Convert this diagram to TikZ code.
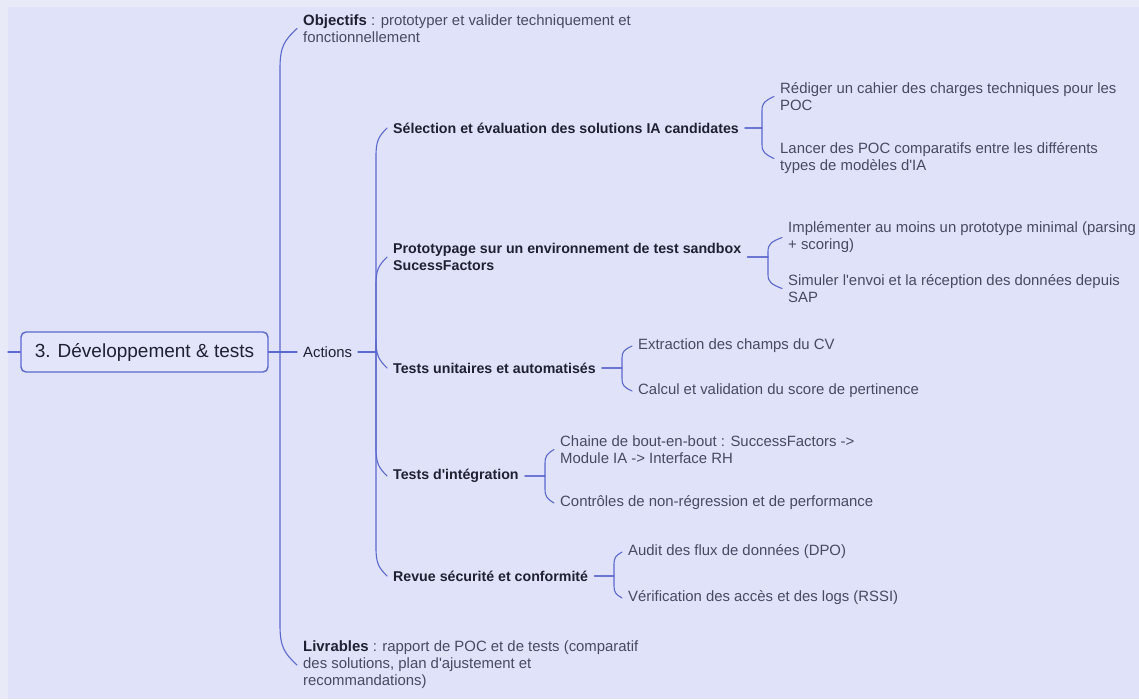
\documentclass[tikz,border=0pt]{standalone}
\usepackage{fontspec}
\setmainfont{Liberation Sans}[Ligatures=TeXOff]
\usetikzlibrary{calc}
\definecolor{bg}{HTML}{DFE2F8}
\definecolor{rim}{HTML}{E8EAF8}
\definecolor{wire}{HTML}{5B68CE}
\definecolor{ink}{HTML}{1F2133}
\definecolor{soft}{HTML}{474A60}
\definecolor{boxfill}{HTML}{E3E6FA}

\begin{document}
\begin{tikzpicture}[x=1pt,y=-1pt,
  every node/.style={inner ysep=1pt, inner xsep=6pt, anchor=west, align=left,
    font=\fontsize{14.9}{17}\selectfont},
  leaf/.style={text=soft},
  branch/.style={text=ink, font=\fontsize{14.2}{17}\selectfont\bfseries},
  rootbox/.style={anchor=center, draw=wire, line width=1.4pt, rounded corners=5pt,
    fill=boxfill, minimum width=247pt, minimum height=40pt, text=ink,
    font=\fontsize{19}{22}\selectfont},
  link/.style={draw=wire, line width=1.1pt, line cap=round},
  % vertical stem that bends into the child like a brace end
  brace/.style={to path={
    let \p1=(\tikztostart), \p2=(\tikztotarget), \n1={sign(\y1-\y2)} in
    -- (\x1, {\y2+(\n1)*(#1)})
    .. controls (\x1, {\y2+(\n1)*0.45*(#1)}) and ({\x1+0.25*(\x2-\x1)}, {\y2+(\n1)*0.3*(#1)})
    .. (\tikztotarget)}},
]
\useasboundingbox (0,0) rectangle (1139,699);
\fill[rim] (0,0) rectangle (1139,699);
\fill[bg] (8,7) rectangle (1139,699);

% central topic
\node[rootbox] (root) at (144.5,352) {3. Développement \& tests};
\coordinate (lstub) at (8,352);

% first level
\node[leaf] (obj) at (297,28.5) {{\color{ink}\bfseries Objectifs} : prototyper et valider techniquement et\\fonctionnellement};
\node[text=ink] (act) at (297,352) {Actions};
\node[leaf] (liv) at (297,665) {{\color{ink}\bfseries Livrables} : rapport de POC et de tests (comparatif\\des solutions, plan d'ajustement et\\recommandations)};

% second level
\node[branch] (sel) at (387,128) {Sélection et évaluation des solutions IA candidates};
\node[branch] (pro) at (387,257) {Prototypage sur un environnement de test sandbox\\SucessFactors};
\node[branch] (tun) at (387,368) {Tests unitaires et automatisés};
\node[branch] (tin) at (387,476) {Tests d'intégration};
\node[branch] (rev) at (387,576) {Revue sécurité et conformité};

% third level
\node[leaf] (sel1) at (774,96.5) {Rédiger un cahier des charges techniques pour les\\POC};
\node[leaf] (sel2) at (774,158.5) {Lancer des POC comparatifs entre les différents\\types de modèles d'IA};
\node[leaf] (pro1) at (782,237.5) {Implémenter au moins un prototype minimal (parsing\\+ scoring)};
\node[leaf] (pro2) at (782,288.5) {Simuler l'envoi et la réception des données depuis\\SAP};
\node[leaf] (tun1) at (632,346) {Extraction des champs du CV};
\node[leaf] (tun2) at (632,391) {Calcul et validation du score de pertinence};
\node[leaf] (tin1) at (554,449.5) {Chaine de bout-en-bout : SuccessFactors ->\\Module IA -> Interface RH};
\node[leaf] (tin2) at (554,503) {Contrôles de non-régression et de performance};
\node[leaf] (rev1) at (622,552) {Audit des flux de données (DPO)};
\node[leaf] (rev2) at (622,598) {Vérification des accès et des logs (RSSI)};

% junction points of the brackets
\coordinate (jr) at (280,352);
\coordinate (ja) at (376,352);
\coordinate (jsel) at (762,128);
\coordinate (jpro) at (768,257);
\coordinate (jtun) at (622,368);
\coordinate (jtin) at (545,476);
\coordinate (jrev) at (614,576);

% connectors
\draw[link] (lstub) -- (root.west);
\draw[link] (root.east) -- (jr) to[brace=40] (obj.west);
\draw[link] (root.east) -- (jr) to[brace=40] (act.west);
\draw[link] (root.east) -- (jr) to[brace=40] (liv.west);

\draw[link] (act.east) -- (ja) to[brace=28] (sel.west);
\draw[link] (act.east) -- (ja) to[brace=28] (pro.west);
\draw[link] (act.east) -- (ja) to[brace=28] (tun.west);
\draw[link] (act.east) -- (ja) to[brace=28] (tin.west);
\draw[link] (act.east) -- (ja) to[brace=28] (rev.west);

\draw[link] (sel.east) -- (jsel) to[brace=14] (sel1.west);
\draw[link] (sel.east) -- (jsel) to[brace=14] (sel2.west);
\draw[link] (pro.east) -- (jpro) to[brace=14] (pro1.west);
\draw[link] (pro.east) -- (jpro) to[brace=14] (pro2.west);
\draw[link] (tun.east) -- (jtun) to[brace=12] (tun1.west);
\draw[link] (tun.east) -- (jtun) to[brace=12] (tun2.west);
\draw[link] (tin.east) -- (jtin) to[brace=14] (tin1.west);
\draw[link] (tin.east) -- (jtin) to[brace=14] (tin2.west);
\draw[link] (rev.east) -- (jrev) to[brace=12] (rev1.west);
\draw[link] (rev.east) -- (jrev) to[brace=12] (rev2.west);
\end{tikzpicture}
\end{document}
